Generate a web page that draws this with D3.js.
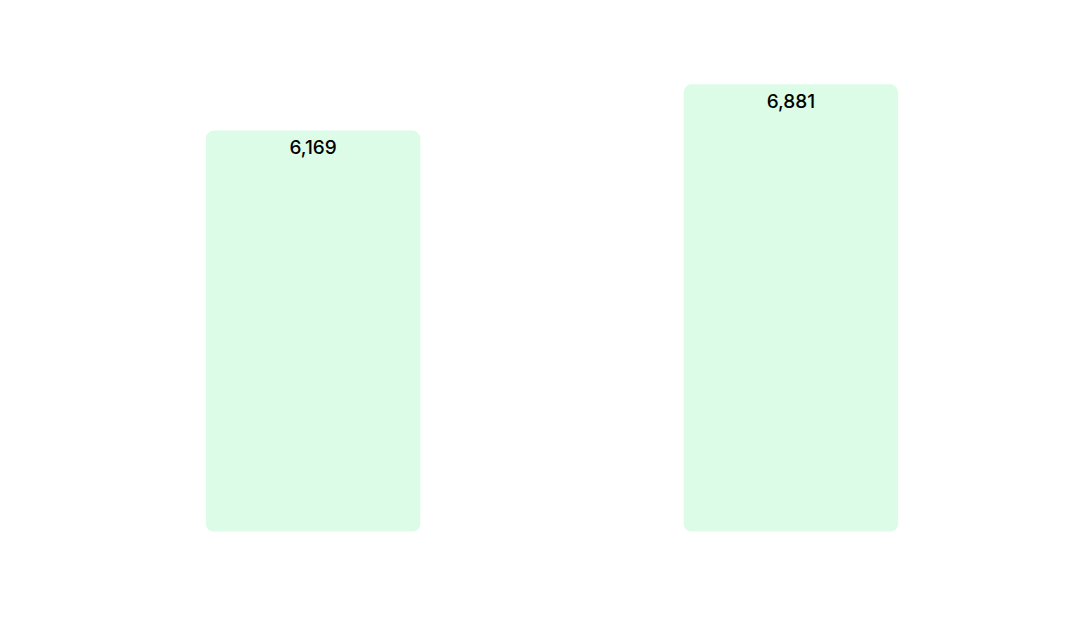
<!DOCTYPE html>
<html>
<head>
<meta charset="utf-8">
<script src="https://cdn.jsdelivr.net/npm/d3@7"></script>
<style>
  html, body { margin: 0; padding: 0; background: #ffffff; }
  svg { display: block; }
</style>
</head>
<body>
<svg id="chart"></svg>
<script>
  const categories = ['A', 'B'];
  const values = [6169, 6881];

  const width = 1086, height = 635;
  const margin = { top: 84.3, right: 56, bottom: 103.5, left: 74 };

  const svg = d3.select('#chart').attr('width', width).attr('height', height);

  const x = d3.scaleBand()
    .domain(categories)
    .range([margin.left, width - margin.right])
    .paddingInner(0.551)
    .paddingOuter(0.276);

  const y = d3.scaleLinear()
    .domain([0, d3.max(values)])
    .range([height - margin.bottom, margin.top]);

  const fmt = d3.format(',');

  let g = svg.append('g');

  g.selectAll('rect').data(values).enter().append('rect')
    .attr('x', (d, i) => x(categories[i]))
    .attr('y', d => y(d))
    .attr('width', x.bandwidth())
    .attr('height', d => y(0) - y(d))
    .attr('rx', 8)
    .attr('ry', 8)
    .attr('fill', '#dcfce7');

  g.selectAll('text').data(values).enter().append('text')
    .attr('x', (d, i) => x(categories[i]) + x.bandwidth() / 2)
    .attr('y', d => y(d) + 23.5)
    .attr('text-anchor', 'middle')
    .attr('font-family', 'Inter, "Noto Sans", sans-serif')
    .attr('font-size', 19)
    .attr('font-weight', 500)
    .attr('fill', '#000')
    .text(d => fmt(d));
</script>
</body>
</html>
